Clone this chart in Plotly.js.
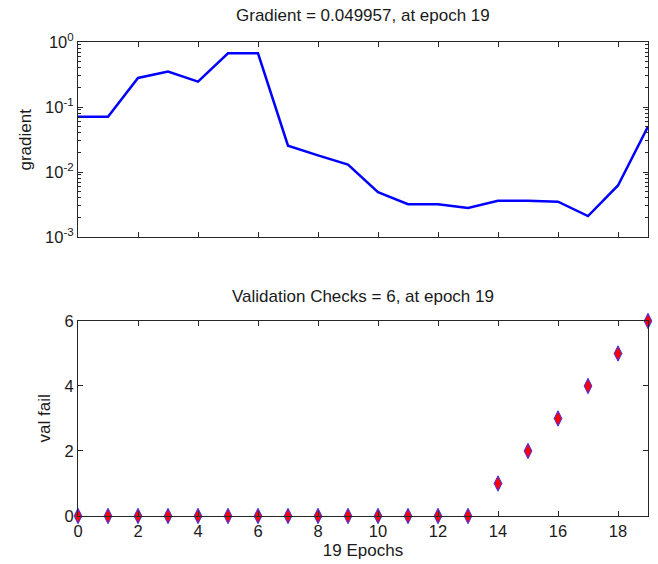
<!DOCTYPE html>
<html>
<head>
<meta charset="utf-8">
<script src="https://cdn.plot.ly/plotly-3.0.1.min.js"></script>
<style>html,body{margin:0;padding:0;background:#fff;}#chart{width:658px;height:564px;}</style>
</head>
<body>
<div id="chart"></div>
<script>
const epochs = [0,1,2,3,4,5,6,7,8,9,10,11,12,13,14,15,16,17,18,19];
const gradient = [0.071,0.071,0.28,0.35,0.245,0.67,0.67,0.0254,0.018,0.013,0.0049,0.0032,0.0032,0.0028,0.0036,0.0036,0.0035,0.0021,0.0062,0.049957];
const valFail = [0,0,0,0,0,0,0,0,0,0,0,0,0,0,1,2,3,4,5,6];
const gradTickVals = [0.001,0.01,0.1,1];
const gradTickText = ['10<sup>-3</sup>','10<sup>-2</sup>','10<sup>-1</sup>','10<sup>0</sup>'];
const gradTitle = 'Gradient = 0.049957, at epoch 19';
const valTitle = 'Validation Checks = 6, at epoch 19';
const gradYLabel = 'gradient';
const valYLabel = 'val fail';
const xLabel = '19 Epochs';

const txt = '#1a1a1a';
const fam = 'Liberation Sans, Arial, sans-serif';
const font = {family:fam, size:17, color:txt};
const tickFont = {family:fam, size:16.5, color:txt};
const axisCommon = {
  showgrid:false, zeroline:false, showline:true, linecolor:'#262626', linewidth:1,
  mirror:'ticks', ticks:'inside', ticklen:5, tickcolor:'#262626', tickwidth:1,
  tickfont:tickFont
};

const traces = [
  {x:epochs, y:gradient, type:'scatter', mode:'lines', xaxis:'x', yaxis:'y',
   line:{color:'#0000ff', width:2.5}, hoverinfo:'skip'},
  {x:epochs, y:valFail, type:'scatter', mode:'markers', xaxis:'x2', yaxis:'y2',
   cliponaxis:false,
   marker:{symbol:'diamond-tall', size:11, color:'#ff0000', line:{color:'#3333ff', width:1}}, hoverinfo:'skip'}
];

const layout = {
  width:658, height:564,
  margin:{l:78, r:10, t:42, b:48},
  paper_bgcolor:'#fff', plot_bgcolor:'#fff',
  showlegend:false,
  font:font,
  xaxis: Object.assign({}, axisCommon, {domain:[0,1], range:[0,19], tickmode:'linear', tick0:0, dtick:2, showticklabels:false, anchor:'y'}),
  yaxis: Object.assign({}, axisCommon, {domain:[0.5886,1], type:'log', range:[-3,0], tickmode:'array',
    tickvals:gradTickVals, ticktext:gradTickText, anchor:'x',
    minor:{ticks:'inside', ticklen:3, tickcolor:'#262626', dtick:'D1'}}),
  xaxis2: Object.assign({}, axisCommon, {domain:[0,1], range:[0,19], tickmode:'linear', tick0:0, dtick:2, anchor:'y2',
    title:{text:xLabel, font:font, standoff:5}}),
  yaxis2: Object.assign({}, axisCommon, {domain:[0,0.4114], range:[0,6], tickmode:'linear', tick0:0, dtick:2, anchor:'x2'}),
  annotations:[
    {text:gradTitle, xref:'paper', yref:'paper', x:0.5, y:1, yshift:15, xanchor:'center', yanchor:'bottom', showarrow:false, font:font},
    {text:valTitle, xref:'paper', yref:'paper', x:0.5, y:0.4114, yshift:13, xanchor:'center', yanchor:'bottom', showarrow:false, font:font},
    {text:gradYLabel, xref:'paper', yref:'paper', x:0, xshift:-52, y:(0.5886+1)/2, textangle:-90, xanchor:'center', yanchor:'middle', showarrow:false, font:font},
    {text:valYLabel, xref:'paper', yref:'paper', x:0, xshift:-34, y:0.4114/2, textangle:-90, xanchor:'center', yanchor:'middle', showarrow:false, font:font}
  ]
};

Plotly.newPlot('chart', traces, layout, {staticPlot:true, displayModeBar:false});
</script>
</body>
</html>
